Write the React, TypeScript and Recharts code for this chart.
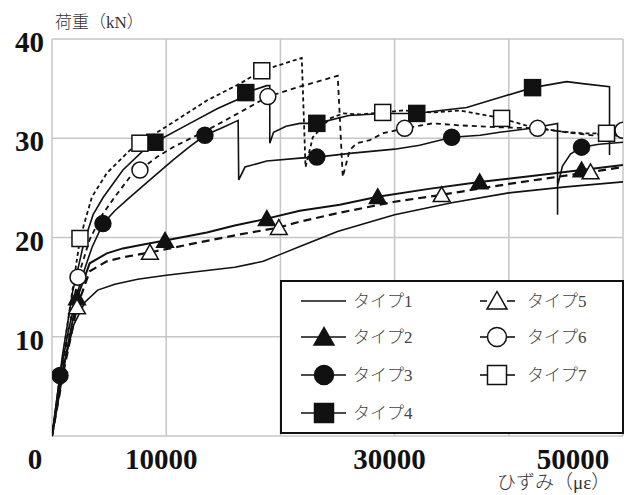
import { LineChart, Line, XAxis, YAxis, CartesianGrid } from "recharts";

// [strain (με), load (kN), marker flag]
type Pt = [number, number, number?];

const X_TICKS = [0, 10000, 20000, 30000, 40000, 50000];
const X_LABELS = [0, 10000, 30000, 50000];
const Y_TICKS = [0, 10, 20, 30, 40];
const NAMES = ["タイプ1", "タイプ2", "タイプ3", "タイプ4", "タイプ5", "タイプ6", "タイプ7"];

const TYPE1: Pt[] = [
  [0, 0], [900, 6.5], [1900, 11.2], [2900, 13.5], [4000, 14.7], [5500, 15.3],
  [7500, 15.8], [10000, 16.2], [13000, 16.6], [16000, 17.0], [18500, 17.6],
  [20000, 18.3], [21700, 19.1], [25000, 20.6], [30000, 22.3], [35000, 23.5],
  [40000, 24.5], [45000, 25.1], [50000, 25.6],
];

const TYPE2: Pt[] = [
  [0, 0], [1200, 8], [2190, 13.9, 1], [3300, 17.4], [4800, 18.4], [6200, 18.9],
  [8000, 19.3], [9900, 19.7, 1], [13560, 20.5], [16000, 21.2], [18810, 21.9, 1],
  [21700, 22.7], [25200, 23.3], [28520, 24.1, 1], [33000, 24.9], [37450, 25.6, 1],
  [42000, 26.2], [46370, 26.8, 1], [50000, 27.3],
];

const TYPE3: Pt[] = [
  [0, 0], [700, 6.1, 1], [1500, 11.0], [2500, 15.6], [3500, 19.0], [4460, 21.4, 1],
  [5500, 22.7], [6560, 23.8], [8575, 25.8], [10590, 27.8], [12000, 29.1],
  [13390, 30.3, 1], [15000, 31.1], [16300, 31.8], [16350, 25.8], [16900, 27.1],
  [18800, 27.7], [21700, 28.0], [23190, 28.1, 1], [26300, 28.5], [30000, 28.9],
  [32200, 29.3], [35000, 30.1, 1], [37500, 30.3], [39200, 30.6], [42000, 31.0],
  [44270, 31.5], [44270, 22.3], [44270, 25.2], [44700, 27.2], [45400, 28.4],
  [46370, 29.1, 1], [47900, 29.4], [50000, 29.6],
];

const TYPE4: Pt[] = [
  [0, 0], [900, 8], [1800, 14.5], [2800, 19.5], [3600, 22.3], [4460, 24.0],
  [6210, 26.8], [8310, 29.1], [9010, 29.6, 1], [12070, 31.5], [14500, 33.0],
  [16450, 34.0], [16970, 34.6, 1], [18800, 35.3], [19070, 35.3], [19070, 29.5],
  [19400, 30.6], [20500, 31.2], [21700, 31.5], [23190, 31.5, 1], [26000, 32.3],
  [29000, 32.5], [31940, 32.5, 1], [34000, 32.8], [36310, 33.1], [39200, 34.1],
  [42080, 35.1, 1], [45060, 35.7], [46460, 35.5], [48820, 35.2], [48820, 28.3],
];

const TYPE5: Pt[] = [
  [0, 0], [1100, 7], [2190, 13.0, 1], [3300, 16.6], [4800, 17.6], [6200, 18.0],
  [8575, 18.5, 1], [12000, 19.3], [16400, 20.3], [19860, 21.0, 1], [21700, 21.6],
  [25200, 22.5], [30000, 23.6], [34120, 24.3, 1], [40000, 25.4], [47160, 26.6, 1],
  [50000, 27.1],
];

const TYPE6: Pt[] = [
  [0, 0], [1000, 7.5], [2275, 16.0, 1], [3300, 19.8], [4400, 22.3], [5510, 24.1],
  [6830, 26.1], [7700, 26.8, 1], [9190, 28.1], [10590, 29.1], [13560, 30.8],
  [16450, 32.6], [18900, 34.2, 1], [21700, 35.2], [25020, 36.3], [25460, 26.1],
  [26070, 28.8], [26690, 29.5], [27820, 29.8], [28960, 30.5], [30880, 31.0, 1],
  [33330, 31.5], [35700, 31.3], [39200, 31.1], [42520, 31.0, 1], [45060, 30.6],
  [47330, 30.3], [50000, 30.8, 1],
];

const TYPE7: Pt[] = [
  [0, 0], [1200, 10], [2450, 19.9, 1], [3500, 24.1], [4810, 26.5], [6830, 28.8],
  [7700, 29.5, 1], [10590, 31.6], [13560, 33.8], [16450, 35.5], [18370, 36.8, 1],
  [21870, 38.1], [22200, 27.1], [22840, 30.1], [24320, 32.0], [25500, 32.5],
  [27000, 32.4], [28960, 32.6, 1], [30710, 32.8], [33330, 32.6], [35700, 32.8],
  [38060, 32.3], [39370, 32.0, 1], [42080, 31.1], [44500, 30.7], [46460, 30.5],
  [48560, 30.5, 1], [50000, 30.1],
];

const INK = "#111";
const GRID = "#c6c6c6";
const SERIF = "'Liberation Serif', 'Times New Roman', serif";
const JP = "'Liberation Serif', 'Noto Sans CJK JP', sans-serif";

type Shape = "none" | "tri" | "dot" | "sq" | "triOpen" | "dotOpen" | "sqOpen";

const SERIES: { name: string; points: Pt[]; shape: Shape; width: number; dash?: string }[] = [
  { name: NAMES[0], points: TYPE1, shape: "none", width: 1.6 },
  { name: NAMES[1], points: TYPE2, shape: "tri", width: 2 },
  { name: NAMES[2], points: TYPE3, shape: "dot", width: 1.6 },
  { name: NAMES[3], points: TYPE4, shape: "sq", width: 1.6 },
  { name: NAMES[4], points: TYPE5, shape: "triOpen", width: 2.2, dash: "8 5" },
  { name: NAMES[5], points: TYPE6, shape: "dotOpen", width: 1.8, dash: "5 4" },
  { name: NAMES[6], points: TYPE7, shape: "sqOpen", width: 1.8, dash: "4 3" },
];

function Marker({ cx, cy, shape, size }: { cx: number; cy: number; shape: Shape; size: number }) {
  const h = size / 2;
  const open = shape.endsWith("Open");
  const fill = open ? "#fff" : INK;
  const common = { fill, stroke: INK, strokeWidth: 1.5 };
  if (shape === "tri" || shape === "triOpen") {
    const pts = `${cx},${cy - h} ${cx - h * 1.05},${cy + h * 0.85} ${cx + h * 1.05},${cy + h * 0.85}`;
    return <polygon points={pts} {...common} />;
  }
  if (shape === "dot" || shape === "dotOpen") {
    return <circle cx={cx} cy={cy} r={h} {...common} />;
  }
  if (shape === "sq" || shape === "sqOpen") {
    return <rect x={cx - h} y={cy - h} width={size} height={size} {...common} />;
  }
  return null;
}

const XTick = (props: any) => {
  const { x, y, payload } = props;
  if (!X_LABELS.includes(payload.value)) return <g />;
  const shift = payload.value === 0 ? -17 : payload.value === 50000 ? -50 : -5;
  return (
    <text x={x + shift} y={y + 25} textAnchor="middle" fontFamily={SERIF} fontWeight="bold" fontSize={29} fill={INK}>
      {payload.value}
    </text>
  );
};

const YTick = (props: any) => {
  const { x, y, payload } = props;
  if (payload.value === 0) return <g />;
  return (
    <text x={x} y={y + 13} textAnchor="end" fontFamily={SERIF} fontWeight="bold" fontSize={29} fill={INK}>
      {payload.value}
    </text>
  );
};

const LEGEND_ROWS = [301, 337, 375, 413];

export default function App() {
  return (
    <div style={{ position: "absolute", left: 0, top: 0, width: 632, height: 495, background: "#fff" }}>
      <LineChart width={632} height={495} margin={{ top: 39, right: 9, left: 0, bottom: 19 }}>
        <CartesianGrid stroke={GRID} strokeWidth={1.5} />
        <XAxis
          type="number"
          dataKey="x"
          domain={[0, 50000]}
          ticks={X_TICKS}
          interval={0}
          allowDataOverflow
          axisLine={false}
          tickLine={false}
          height={40}
          tick={<XTick />}
        />
        <YAxis
          type="number"
          dataKey="y"
          domain={[0, 40]}
          ticks={Y_TICKS}
          interval={0}
          axisLine={false}
          tickLine={false}
          width={52}
          tick={<YTick />}
        />
        {SERIES.map((s) => (
          <Line
            key={s.name}
            name={s.name}
            data={s.points.map(([x, y, m]) => ({ x, y, m: !!m }))}
            dataKey="y"
            type="linear"
            stroke={INK}
            strokeWidth={s.width}
            strokeDasharray={s.dash}
            isAnimationActive={false}
            activeDot={false}
            dot={(p: any) =>
              p.payload.m ? (
                <Marker key={`${s.name}-${p.index}`} cx={p.cx} cy={p.cy} shape={s.shape} size={16} />
              ) : (
                <g key={`${s.name}-${p.index}`} />
              )
            }
          />
        ))}
      </LineChart>
      <svg
        width={632}
        height={495}
        style={{ position: "absolute", left: 0, top: 0, pointerEvents: "none" }}
      >
        <text x={55} y={28} fontFamily={JP} fontSize={17} fontWeight={300} fill="#333">
          荷重（kN）
        </text>
        <text x={497} y={489} fontFamily={JP} fontSize={19} fontWeight={300} fill="#333">
          ひずみ（με）
        </text>
        <rect x={281} y={281} width={342} height={152} fill="#fff" stroke={INK} strokeWidth={2} />
        {SERIES.slice(0, 4).map((s, i) => {
          const cy = LEGEND_ROWS[i];
          return (
            <g key={s.name}>
              <line x1={301} x2={346} y1={cy} y2={cy} stroke={INK} strokeWidth={1.6} />
              <Marker cx={324} cy={cy} shape={s.shape} size={19} />
              <text x={353} y={cy + 6} fontFamily={JP} fontSize={17} fontWeight={300} fill="#444">
                {s.name}
              </text>
            </g>
          );
        })}
        {SERIES.slice(4).map((s, i) => {
          const cy = LEGEND_ROWS[i];
          return (
            <g key={s.name}>
              <line x1={480} x2={487} y1={cy} y2={cy} stroke={INK} strokeWidth={1.6} />
              <line x1={507} x2={515} y1={cy} y2={cy} stroke={INK} strokeWidth={1.6} />
              <Marker cx={497} cy={cy} shape={s.shape} size={19} />
              <text x={527} y={cy + 6} fontFamily={JP} fontSize={17} fontWeight={300} fill="#444">
                {s.name}
              </text>
            </g>
          );
        })}
      </svg>
    </div>
  );
}
